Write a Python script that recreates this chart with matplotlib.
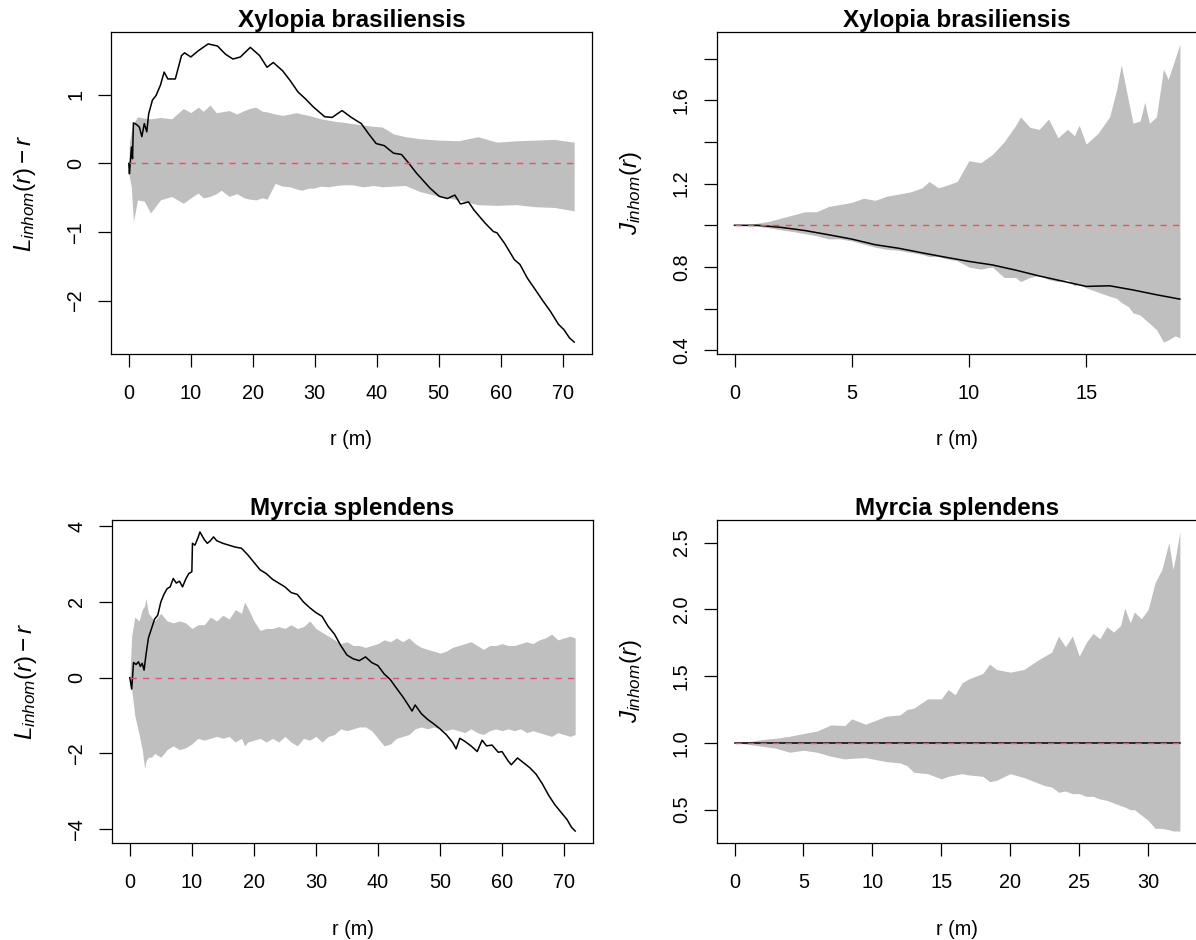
import matplotlib
matplotlib.use("Agg")
import matplotlib.pyplot as plt

plt.rcParams['font.family'] = ['Liberation Sans', 'DejaVu Sans']
plt.rcParams['mathtext.fontset'] = 'custom'
plt.rcParams['mathtext.rm'] = 'Liberation Sans'
plt.rcParams['mathtext.it'] = 'Liberation Sans:italic'
plt.rcParams['mathtext.bf'] = 'Liberation Sans:bold'

# ---------------- data ----------------
titles = ["Xylopia brasiliensis", "Xylopia brasiliensis", "Myrcia splendens", "Myrcia splendens"]
xlabel = "r (m)"
ylab_L = r"$L_{inhom}(r) - r$"
ylab_J = r"$J_{inhom}(r)$"

# Top-left: Xylopia, L_inhom(r) - r
tl_r = [0, 0.1, 0.43, 0.6, 0.74, 1.2, 1.7, 2.1, 2.5, 2.9, 3.2, 3.8, 4.4, 5.1, 5.7, 6.3, 7.5, 8.5,
        9.0, 10, 11.2, 12.8, 14.3, 15.6, 16.8, 18, 19.6, 21.1, 22.3, 23.3, 24.8, 26, 27.3, 28.5,
        29.8, 31.6, 32.8, 34.4, 35.9, 37.5, 38.7, 39.9, 41.2, 42.7, 44, 45.2, 46.4, 47.7, 48.6,
        50.1, 51.4, 52.6, 53.5, 54.8, 55.7, 57.5, 58.8, 59.4, 60.6, 62.2, 63.1, 64.3, 65.6, 66.8,
        68, 69.3, 70.2, 71.1, 71.85]
tl_obs = [0, -0.15, 0.24, 0.07, 0.59, 0.57, 0.53, 0.39, 0.58, 0.46, 0.72, 0.92, 0.99, 1.14, 1.33,
          1.23, 1.23, 1.57, 1.61, 1.55, 1.64, 1.74, 1.71, 1.59, 1.52, 1.55, 1.69, 1.57, 1.40, 1.47,
          1.35, 1.21, 1.04, 0.94, 0.82, 0.68, 0.67, 0.77, 0.67, 0.58, 0.43, 0.29, 0.26, 0.15, 0.13,
          0.0, -0.14, -0.27, -0.36, -0.48, -0.51, -0.46, -0.59, -0.56, -0.68, -0.87, -0.99, -1.01,
          -1.16, -1.40, -1.47, -1.67, -1.84, -2.00, -2.15, -2.34, -2.42, -2.54, -2.60]
tl_env_r = [0, 0.1, 0.4, 0.74, 1.4, 2.5, 3.5, 5.1, 6.9, 8.8, 10, 11.2, 12, 13.1, 14.1, 14.9, 16.2,
            17.4, 18.6, 19.5, 20.5, 21.5, 22.3, 23.6, 24.8, 26, 27, 27.9, 29, 29.8, 31, 32.2, 33.5,
            34.7, 36, 37.8, 39.5, 40.9, 42.7, 44.6, 47, 50.1, 53.2, 56.3, 59.4, 62.5, 65.6, 68.6,
            71.85]
tl_hi = [0, 0.30, 0.46, 0.58, 0.68, 0.66, 0.65, 0.67, 0.65, 0.80, 0.74, 0.82, 0.76, 0.85, 0.74,
         0.75, 0.77, 0.72, 0.77, 0.80, 0.82, 0.76, 0.75, 0.72, 0.70, 0.72, 0.74, 0.72, 0.70, 0.68,
         0.65, 0.63, 0.61, 0.60, 0.58, 0.56, 0.54, 0.53, 0.43, 0.39, 0.36, 0.34, 0.33, 0.39, 0.31,
         0.33, 0.34, 0.35, 0.31]
tl_lo = [0, -0.20, -0.34, -0.85, -0.53, -0.55, -0.72, -0.53, -0.48, -0.58, -0.50, -0.43, -0.50,
         -0.48, -0.44, -0.39, -0.48, -0.44, -0.50, -0.52, -0.53, -0.50, -0.52, -0.29, -0.33, -0.34,
         -0.37, -0.39, -0.36, -0.36, -0.33, -0.34, -0.32, -0.31, -0.31, -0.34, -0.32, -0.34, -0.33,
         -0.32, -0.41, -0.48, -0.53, -0.60, -0.61, -0.60, -0.63, -0.64, -0.69]

# Top-right: Xylopia, J_inhom(r)
tr_r = [0, 1, 2, 3, 4, 5, 6, 7, 8, 9, 10, 11, 12, 13, 14, 15, 16, 17, 18, 19]
tr_obs = [1.0, 1.0, 0.99, 0.975, 0.955, 0.934, 0.907, 0.89, 0.868, 0.847, 0.827, 0.81, 0.785,
          0.757, 0.732, 0.707, 0.71, 0.69, 0.667, 0.646]
tr_env_r = [0, 0.5, 1, 1.5, 2, 2.5, 3, 3.5, 4, 4.5, 5, 5.5, 6, 6.5, 7, 7.5, 8, 8.3, 8.7, 9, 9.5,
            10, 10.5, 11, 11.5, 12, 12.2, 12.6, 13, 13.4, 13.8, 14.2, 14.5, 14.7, 15, 15.5, 16,
            16.3, 16.5, 16.8, 17, 17.3, 17.5, 17.7, 18, 18.3, 18.5, 18.8, 19]
tr_hi = [1.0, 1.003, 1.01, 1.02, 1.035, 1.05, 1.065, 1.065, 1.09, 1.10, 1.11, 1.13, 1.12, 1.14,
         1.15, 1.16, 1.18, 1.21, 1.18, 1.19, 1.21, 1.31, 1.30, 1.34, 1.40, 1.48, 1.52, 1.47, 1.46,
         1.51, 1.42, 1.46, 1.43, 1.48, 1.39, 1.44, 1.52, 1.65, 1.77, 1.60, 1.49, 1.50, 1.59, 1.49,
         1.52, 1.75, 1.70, 1.80, 1.87]
tr_lo = [1.0, 0.998, 0.995, 0.988, 0.978, 0.97, 0.96, 0.95, 0.935, 0.935, 0.925, 0.91, 0.895,
         0.885, 0.88, 0.87, 0.86, 0.85, 0.85, 0.84, 0.83, 0.80, 0.79, 0.80, 0.75, 0.75, 0.73, 0.75,
         0.76, 0.74, 0.73, 0.74, 0.71, 0.72, 0.70, 0.68, 0.66, 0.65, 0.63, 0.61, 0.58, 0.57, 0.55,
         0.53, 0.50, 0.44, 0.45, 0.47, 0.46]

# Bottom-left: Myrcia, L_inhom(r) - r
bl_r = [0, 0.3, 0.6, 1, 1.4, 1.7, 2, 2.3, 2.6, 3, 3.5, 4, 4.5, 5, 5.5, 6, 6.5, 7, 7.5, 8, 8.5, 9,
        9.5, 10, 10.1, 10.5, 11, 11.3, 12, 12.5, 13, 13.5, 14, 15, 16, 17, 18, 19, 20, 21, 22, 23,
        24, 25, 26, 27, 28, 29, 30, 31, 32, 33, 34, 35, 36, 37, 38, 39, 40, 41, 42, 43, 44, 45,
        45.5, 46, 47, 48, 49, 50, 51, 52, 52.6, 53.2, 54, 55, 56, 56.8, 57.5, 58.4, 59.4, 60, 61,
        61.5, 62.5, 63.5, 64.5, 65.5, 66.5, 67.5, 68.5, 69.5, 70.5, 71.2, 71.8]
bl_obs = [0, -0.3, 0.4, 0.35, 0.42, 0.3, 0.38, 0.2, 0.6, 1.05, 1.3, 1.55, 1.65, 2.0, 2.2, 2.35,
          2.4, 2.62, 2.5, 2.55, 2.4, 2.6, 2.75, 2.8, 3.55, 3.5, 3.7, 3.85, 3.65, 3.55, 3.62, 3.72,
          3.62, 3.55, 3.5, 3.45, 3.42, 3.25, 3.05, 2.85, 2.75, 2.6, 2.5, 2.4, 2.25, 2.2, 2.0, 1.85,
          1.72, 1.62, 1.35, 1.15, 0.85, 0.6, 0.5, 0.45, 0.55, 0.4, 0.32, 0.1, -0.05, -0.28, -0.5,
          -0.75, -0.88, -0.72, -0.95, -1.1, -1.22, -1.35, -1.5, -1.7, -1.88, -1.6, -1.68, -1.8,
          -1.95, -1.65, -1.8, -1.78, -1.97, -1.95, -2.2, -2.3, -2.12, -2.25, -2.38, -2.55, -2.8,
          -3.1, -3.35, -3.55, -3.75, -3.95, -4.05]
bl_env_r = [0, 0.3, 0.8, 1.5, 2.0, 2.4, 2.6, 3.0, 3.5, 4, 5, 6, 7, 8, 9, 10, 11, 12, 13, 14, 15,
            16, 17, 18, 18.5, 19, 20, 21, 22, 23, 24, 25, 26, 27, 28, 29, 30, 31, 32, 33, 34, 35,
            36, 37, 38, 39, 40, 41, 42, 43, 44, 45, 46, 47, 48, 49, 50, 51, 52, 53, 54, 55, 56, 57,
            58, 59, 60, 61, 62, 63, 64, 65, 66, 67, 68, 69, 70, 71, 71.8]
bl_hi = [0, 1.1, 1.6, 1.5, 1.8, 1.9, 2.1, 1.7, 1.6, 1.5, 1.7, 1.5, 1.45, 1.5, 1.45, 1.3, 1.4, 1.4,
         1.6, 1.5, 1.65, 1.55, 1.8, 1.7, 2.0, 1.85, 1.5, 1.25, 1.3, 1.3, 1.35, 1.3, 1.4, 1.3, 1.35,
         1.5, 1.3, 1.2, 1.1, 1.0, 0.9, 0.95, 0.85, 0.85, 0.8, 0.85, 0.9, 1.0, 0.95, 1.05, 0.95,
         1.05, 0.9, 0.8, 0.75, 0.7, 0.65, 0.7, 0.8, 0.85, 0.9, 0.95, 0.85, 0.75, 0.85, 0.85, 0.9,
         0.85, 0.85, 0.9, 0.95, 0.9, 1.0, 1.05, 1.15, 1.0, 1.05, 1.1, 1.05]
bl_lo = [0, -0.3, -1.0, -1.5, -1.9, -2.4, -2.2, -2.1, -2.1, -2.0, -2.1, -1.9, -1.8, -1.9, -1.85,
         -1.75, -1.6, -1.65, -1.6, -1.55, -1.6, -1.55, -1.7, -1.6, -1.8, -1.7, -1.65, -1.6, -1.7,
         -1.6, -1.7, -1.55, -1.7, -1.8, -1.6, -1.65, -1.55, -1.7, -1.55, -1.5, -1.35, -1.4, -1.35,
         -1.3, -1.3, -1.4, -1.6, -1.8, -1.75, -1.6, -1.55, -1.5, -1.35, -1.3, -1.35, -1.3, -1.35,
         -1.4, -1.35, -1.4, -1.45, -1.35, -1.45, -1.5, -1.4, -1.35, -1.4, -1.35, -1.4, -1.35, -1.45,
         -1.4, -1.45, -1.5, -1.55, -1.45, -1.5, -1.55, -1.5]

# Bottom-right: Myrcia, J_inhom(r)
br_r = [0, 8, 16, 24, 32.3]
br_obs = [1.0, 1.0, 1.0, 1.0, 1.0]
br_env_r = [0, 1, 2, 3, 4, 5, 6, 7, 8, 8.5, 9.5, 10, 11, 12, 12.5, 13, 14, 15, 15.5, 16, 16.5, 17,
            18, 18.5, 19, 20, 21, 22, 22.5, 23, 23.5, 24, 24.5, 25, 25.5, 26, 26.5, 27, 27.5, 28,
            28.3, 28.7, 29, 29.5, 30, 30.5, 31, 31.5, 31.8, 32, 32.3]
br_hi = [1.0, 1.01, 1.025, 1.035, 1.05, 1.07, 1.09, 1.135, 1.13, 1.18, 1.14, 1.16, 1.2, 1.21, 1.25,
         1.26, 1.33, 1.33, 1.4, 1.36, 1.45, 1.48, 1.52, 1.59, 1.55, 1.53, 1.55, 1.62, 1.65, 1.68,
         1.8, 1.72, 1.8, 1.65, 1.75, 1.82, 1.78, 1.87, 1.83, 1.88, 2.01, 1.9, 1.98, 1.93, 2.0, 2.2,
         2.3, 2.5, 2.3, 2.4, 2.58]
br_lo = [1.0, 0.99, 0.975, 0.96, 0.93, 0.945, 0.93, 0.9, 0.88, 0.885, 0.89, 0.88, 0.86, 0.85,
         0.83, 0.78, 0.77, 0.73, 0.75, 0.76, 0.77, 0.76, 0.75, 0.71, 0.72, 0.77, 0.74, 0.7, 0.68,
         0.67, 0.63, 0.64, 0.62, 0.62, 0.6, 0.6, 0.58, 0.57, 0.55, 0.53, 0.52, 0.5, 0.5, 0.46,
         0.42, 0.36, 0.36, 0.35, 0.34, 0.34, 0.34]

theo_L = 0.0
theo_J = 1.0

tl_xticks = [0, 10, 20, 30, 40, 50, 60, 70]
tl_yticks = [-2, -1, 0, 1]
tr_xticks = [0, 5, 10, 15]
tr_yticks = [0.4, 0.6, 0.8, 1.0, 1.2, 1.4, 1.6, 1.8]
tr_ylabels = ["0.4", "", "0.8", "", "1.2", "", "1.6", ""]
bl_xticks = [0, 10, 20, 30, 40, 50, 60, 70]
bl_yticks = [-4, -2, 0, 2, 4]
br_xticks = [0, 5, 10, 15, 20, 25, 30]
br_yticks = [0.5, 1.0, 1.5, 2.0, 2.5]
br_ylabels = ["0.5", "1.0", "1.5", "2.0", "2.5"]

# ---------------- style ----------------
W, H = 1196, 940
GREY = "#BFBFBF"
RED = "#DF536B"
FS = 14.3

fig = plt.figure(figsize=(W / 100, H / 100), dpi=100)

def px_axes(x0, x1, y0, y1):
    return fig.add_axes([x0 / W, 1 - y1 / H, (x1 - x0) / W, (y1 - y0) / H])

panels = [
    (px_axes(111, 592, 32, 354), tl_r, tl_obs, tl_env_r, tl_lo, tl_hi, theo_L, titles[0], ylab_L,
     tl_xticks, tl_yticks, None),
    (px_axes(716.7, 1197.7, 32, 354), tr_r, tr_obs, tr_env_r, tr_lo, tr_hi, theo_J, titles[1], ylab_J,
     tr_xticks, tr_yticks, tr_ylabels),
    (px_axes(112, 593, 520, 843), bl_r, bl_obs, bl_env_r, bl_lo, bl_hi, theo_L, titles[2], ylab_L,
     bl_xticks, bl_yticks, None),
    (px_axes(716.7, 1197.7, 520, 843), br_r, br_obs, br_env_r, br_lo, br_hi, theo_J, titles[3], ylab_J,
     br_xticks, br_yticks, br_ylabels),
]

for ax, r, obs, er, lo, hi, theo, title, ylab, xt, yt, ylabs in panels:
    ax.fill_between(er, lo, hi, color=GREY, linewidth=0, zorder=1)
    ax.plot(r, obs, color="black", lw=1.1, zorder=3)
    ax.plot([0, max(er)], [theo, theo], color=RED, lw=1.0, linestyle=(0, (4.5, 4.5)), zorder=4)
    ax.margins(x=0.04, y=0.04)
    ax.set_xticks(xt)
    ax.set_yticks(yt)
    if ylabs is not None:
        ax.set_yticklabels(ylabs)
    ax.tick_params(axis="both", direction="out", length=9.1, width=0.9, labelsize=FS, color="black")
    ax.tick_params(axis="x", pad=12.5)
    ax.tick_params(axis="y", pad=9.5, labelrotation=90)
    for lab in ax.get_yticklabels():
        lab.set_verticalalignment("center")
    for sp in ax.spines.values():
        sp.set_linewidth(0.9)
        sp.set_color("black")
    ax.set_title(title, fontsize=17.5, fontweight="bold", pad=3.5)
    ax.set_xlabel(xlabel, fontsize=FS)
    ax.xaxis.set_label_coords(0.5, -86 / 322)
    ax.xaxis.label.set_verticalalignment("center")
    ax.set_ylabel(ylab, fontsize=17.5)
    ax.yaxis.set_label_coords(-86 / 481, 0.5)
    ax.yaxis.label.set_verticalalignment("center")
    ax.yaxis.label.set_horizontalalignment("center")

fig.savefig("out.png", dpi=100)
